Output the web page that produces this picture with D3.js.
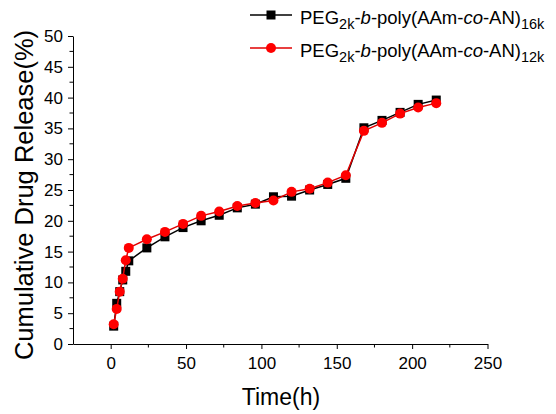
<!DOCTYPE html>
<html><head><meta charset="utf-8">
<script src="https://cdn.jsdelivr.net/npm/d3@7"></script>
<style>body{margin:0;background:#fff}text{font-family:Arial,"Liberation Sans",sans-serif}</style>
</head><body><svg id="c" width="556" height="414"></svg>
<script>
const time = [2,4,6,8,10,12,24,36,48,60,72,84,96,108,120,132,144,156,168,180,192,204,216];
const release16k = [2.9,6.6,8.5,10.4,11.8,13.5,15.6,17.4,18.9,20.0,20.9,22.1,22.7,23.9,24.0,25.0,25.9,26.9,35.1,36.3,37.6,38.9,39.6];
const release12k = [3.2,5.7,8.5,10.6,13.6,15.6,17.0,18.2,19.5,20.8,21.5,22.4,22.9,23.3,24.7,25.2,26.2,27.4,34.6,35.9,37.4,38.4,39.1];
const xTicks = [0,50,100,150,200,250];
const yTicks = [0,5,10,15,20,25,30,35,40,45,50];

const svg = d3.select("#c");
const x = d3.scaleLinear().domain([-25,250]).range([73,487.5]);
const y = d3.scaleLinear().domain([0,50]).range([344,36]);

// minor ticks
const g = svg.append("g");
const xMinor = d3.range(25,250,50);
g.selectAll(".xm").data(xMinor).join("line").attr("x1",d=>x(d)).attr("x2",d=>x(d)).attr("y1",344).attr("y2",347.5).attr("stroke","#000");
const yMinor = d3.range(2.5,50,5);
g.selectAll(".ym").data(yMinor).join("line").attr("y1",d=>y(d)).attr("y2",d=>y(d)).attr("x1",73).attr("x2",69.5).attr("stroke","#000");

const xAxis = svg.append("g").attr("transform","translate(0,344)")
  .call(d3.axisBottom(x).tickValues(xTicks).tickSize(5).tickPadding(8).tickSizeOuter(0));
const yAxis = svg.append("g").attr("transform","translate(73,0)")
  .call(d3.axisLeft(y).tickValues(yTicks).tickSize(5).tickPadding(5).tickSizeOuter(0));
[xAxis,yAxis].forEach(a=>{a.selectAll("text").attr("font-size",17).attr("fill","#000").style("font-family","Arial, 'Liberation Sans', sans-serif");
  a.select(".domain").attr("stroke","#000"); a.selectAll("line").attr("stroke","#000");});

svg.append("text").attr("x",281).attr("y",405).attr("text-anchor","middle").attr("font-size",23).text("Time(h)");
svg.append("text").attr("transform","translate(33,195) rotate(-90)").attr("text-anchor","middle").attr("font-size",25.5).text("Cumulative Drug Release(%)");

const line = d3.line().x(d=>x(d[0])).y(d=>y(d[1]));
const d16 = time.map((t,i)=>[t,release16k[i]]);
const d12 = time.map((t,i)=>[t,release12k[i]]);

svg.append("path").datum(d16).attr("d",line).attr("fill","none").attr("stroke","#000").attr("stroke-width",1.5);
svg.selectAll(".sq").data(d16).join("rect").attr("x",d=>x(d[0])-4.5).attr("y",d=>y(d[1])-4.5).attr("width",9).attr("height",9).attr("fill","#000");
svg.append("path").datum(d12).attr("d",line).attr("fill","none").attr("stroke","#e00000").attr("stroke-width",1.5);
svg.selectAll(".ci").data(d12).join("circle").attr("cx",d=>x(d[0])).attr("cy",d=>y(d[1])).attr("r",5).attr("fill","#ff0000");

// legend
const leg = [{name:"16k",color:"#000",shape:"sq",y:15},{name:"12k",color:"#e00000",shape:"ci",y:48}];
leg.forEach(l=>{
  svg.append("line").attr("x1",250).attr("x2",292).attr("y1",l.y).attr("y2",l.y).attr("stroke",l.color).attr("stroke-width",1.5);
  if(l.shape==="sq") svg.append("rect").attr("x",271-4.5).attr("y",l.y-4.5).attr("width",9).attr("height",9).attr("fill","#000");
  else svg.append("circle").attr("cx",271).attr("cy",l.y).attr("r",5).attr("fill","#ff0000");
  const t = svg.append("text").attr("x",300).attr("y",l.y+8.5).attr("font-size",18.5);
  t.append("tspan").text("PEG");
  t.append("tspan").attr("font-size",14.5).attr("dy",5).text("2k");
  t.append("tspan").attr("dy",-5).text("-");
  t.append("tspan").attr("font-style","italic").text("b");
  t.append("tspan").text("-poly(AAm-");
  t.append("tspan").attr("font-style","italic").text("co");
  t.append("tspan").text("-AN)");
  t.append("tspan").attr("font-size",14.5).attr("dy",5).text(l.name);
});
</script></body></html>
